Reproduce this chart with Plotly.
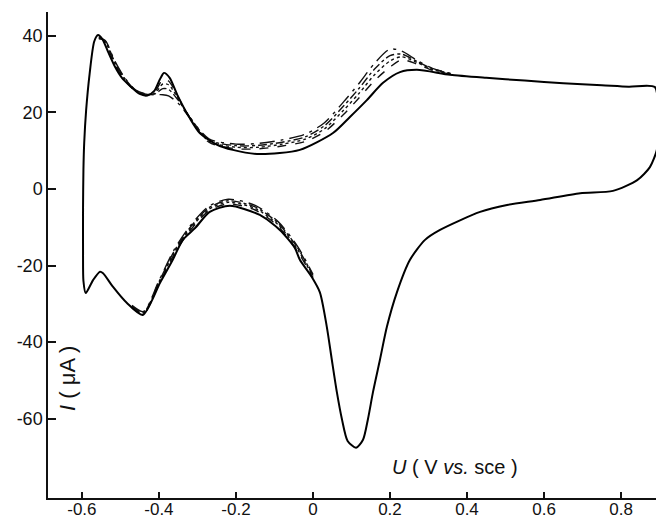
import plotly.graph_objects as go

# Solid curve (full closed loop), potential U (V vs. SCE) and current I (uA)
solid_U = [-0.590, -0.596, -0.597, -0.597, -0.596, -0.594, -0.589, -0.580, -0.568, -0.558,
           -0.546, -0.532, -0.514, -0.496, -0.475, -0.450, -0.430, -0.412, -0.398, -0.387,
           -0.372, -0.352, -0.320, -0.294, -0.250, -0.208, -0.138, -0.034, 0.052, 0.096,
           0.140, 0.182, 0.226, 0.270, 0.356, 0.450, 0.550, 0.650, 0.750, 0.820,
           0.888, 0.896, 0.896, 0.893, 0.875, 0.842, 0.779, 0.694, 0.590, 0.504,
           0.434, 0.330, 0.291, 0.252, 0.218, 0.192, 0.174, 0.156, 0.143, 0.130,
           0.112, 0.090, 0.075, 0.062, 0.049, 0.036, 0.018, -0.003, -0.034, -0.047,
           -0.086, -0.138, -0.216, -0.268, -0.306, -0.338, -0.364, -0.397, -0.442, -0.483,
           -0.519, -0.545, -0.553, -0.571, -0.590]
solid_I = [-27.2, -24.0, -16.0, -5.0, 5.0, 12.0, 20.5, 30.0, 38.5, 40.2,
           39.0, 35.8, 31.9, 29.0, 26.9, 24.8, 24.4, 25.6, 28.5, 30.3,
           29.0, 24.5, 18.5, 14.6, 11.6, 10.2, 9.1, 10.2, 14.6, 18.8,
           23.2, 27.7, 30.5, 31.1, 29.8, 29.0, 28.3, 27.6, 27.1, 26.7,
           26.6, 18.8, 14.6, 10.2, 5.7, 2.3, -0.5, -1.1, -2.9, -4.2,
           -6.0, -10.7, -13.3, -18.5, -27.0, -36.0, -44.6, -53.0, -60.0, -65.5,
           -67.6, -65.8, -60.0, -53.0, -44.6, -36.0, -27.0, -23.0, -18.5, -15.4,
           -10.7, -6.8, -4.4, -6.0, -10.2, -13.3, -18.5, -24.5, -32.9, -29.8,
           -25.6, -22.0, -21.6, -23.8, -27.2]

# Other cycles: anodic portion where they separate from the solid curve
anod_U = [-0.556, -0.540, -0.515, -0.490, -0.460, -0.430, -0.410, -0.390, -0.375, -0.350,
          -0.320, -0.270, -0.200, -0.140, -0.080, -0.020, 0.030, 0.080, 0.120, 0.160,
          0.200, 0.230, 0.270, 0.310, 0.360]
anod_I1 = [39.8, 38.5, 32.6, 28.6, 25.5, 24.5, 25.4, 28.6, 28.2, 24.0,
           18.6, 12.2, 10.5, 10.5, 11.2, 12.4, 14.9, 19.5, 23.8, 28.3,
           31.8, 33.7, 32.6, 31.0, 29.9]
anod_I2 = [39.6, 38.6, 32.9, 28.8, 25.6, 24.6, 25.0, 27.4, 27.2, 23.6,
           18.7, 12.5, 10.9, 10.9, 11.7, 13.0, 15.7, 20.6, 25.0, 29.8,
           33.4, 34.5, 33.0, 31.2, 30.0]
anod_I3 = [39.4, 38.7, 33.2, 29.0, 25.7, 24.7, 24.8, 26.2, 26.0, 23.2,
           18.8, 12.8, 11.3, 11.4, 12.2, 13.6, 16.5, 21.7, 26.3, 31.3,
           34.8, 35.2, 33.3, 31.4, 30.0]
anod_I4 = [39.2, 38.8, 33.5, 29.2, 25.8, 24.7, 24.6, 24.6, 24.3, 22.4,
           18.6, 13.1, 11.7, 11.9, 12.8, 14.3, 17.3, 22.8, 27.6, 32.8,
           36.5, 36.0, 33.6, 31.5, 30.1]

# Other cycles: cathodic portion where they separate from the solid curve
cath_U = [-0.470, -0.440, -0.400, -0.360, -0.320, -0.270, -0.220, -0.150, -0.090, -0.040, 0.000]
cath_I1 = [-31.0, -32.6, -24.9, -17.0, -11.0, -5.7, -3.9, -5.5, -9.8, -16.3, -23.2]
cath_I2 = [-30.8, -32.4, -24.6, -16.6, -10.6, -5.3, -3.5, -5.1, -9.4, -15.8, -22.9]
cath_I3 = [-30.6, -32.2, -24.3, -16.2, -10.2, -4.9, -3.1, -4.7, -9.0, -15.4, -22.6]
cath_I4 = [-30.4, -32.0, -24.0, -15.8, -9.8, -4.5, -2.7, -4.3, -8.6, -15.0, -22.3]

x_ticks = [-0.6, -0.4, -0.2, 0, 0.2, 0.4, 0.6, 0.8]
x_tick_labels = ["-0.6", "-0.4", "-0.2", "0", "0.2", "0.4", "0.6", "0.8"]
y_ticks = [-60, -40, -20, 0, 20, 40]
y_tick_labels = ["-60", "-40", "-20", "0", "20", "40"]

fig = go.Figure()

variants = [
    (anod_I1, cath_I1, "dash"),
    (anod_I2, cath_I2, "dot"),
    (anod_I3, cath_I3, "dashdot"),
    (anod_I4, cath_I4, "longdashdot"),
]
for a_I, c_I, dash in variants:
    fig.add_trace(go.Scatter(
        x=anod_U + [None] + cath_U, y=a_I + [None] + c_I,
        mode="lines", line=dict(color="#111", width=1.4, dash=dash, shape="spline", smoothing=0.8),
        connectgaps=False, showlegend=False, hoverinfo="skip"))

fig.add_trace(go.Scatter(
    x=solid_U, y=solid_I, mode="lines",
    line=dict(color="#000", width=2, shape="spline", smoothing=0.7),
    showlegend=False))

font = dict(family="Liberation Sans, Arial, sans-serif", size=18, color="#111")
xfont = dict(family="Liberation Sans, Arial, sans-serif", size=17, color="#111")
title_font = dict(family="Liberation Sans, Arial, sans-serif", size=20, color="#111")

# The page body adds an 8 px margin, so the figure is 8 px smaller than the window
fig.update_layout(
    width=656, height=512,
    margin=dict(l=40, r=1, t=4, b=22, autoexpand=False),
    paper_bgcolor="white", plot_bgcolor="white",
    font=font,
    xaxis=dict(range=[-0.688, 0.909], tickvals=x_ticks, ticktext=x_tick_labels,
               showgrid=False, zeroline=False, showline=True, linecolor="#111", linewidth=1.5,
               ticks="inside", ticklen=6, tickwidth=1.5, tickcolor="#111", mirror=False,
               tickfont=xfont, automargin=False, ticklabelstandoff=-5),
    yaxis=dict(range=[-80.7, 46.2], tickvals=y_ticks, ticktext=y_tick_labels,
               showgrid=False, zeroline=False, showline=True, linecolor="#111", linewidth=1.5,
               ticks="inside", ticklen=8, tickwidth=1.5, tickcolor="#111", mirror=False,
               tickfont=font, automargin=False),
    annotations=[
        dict(text="<i>I</i> ( μA )", x=0.0325, y=0.247, xref="paper", yref="paper",
             xanchor="center", yanchor="middle",
             showarrow=False, textangle=-90, font=dict(title_font, size=22)),
        dict(text="<i>U</i> ( V <i>vs.</i> sce )", x=0.662, y=0.064, xref="paper", yref="paper",
             xanchor="center", yanchor="middle",
             showarrow=False, font=title_font),
    ],
)

fig.write_html("out.html")
